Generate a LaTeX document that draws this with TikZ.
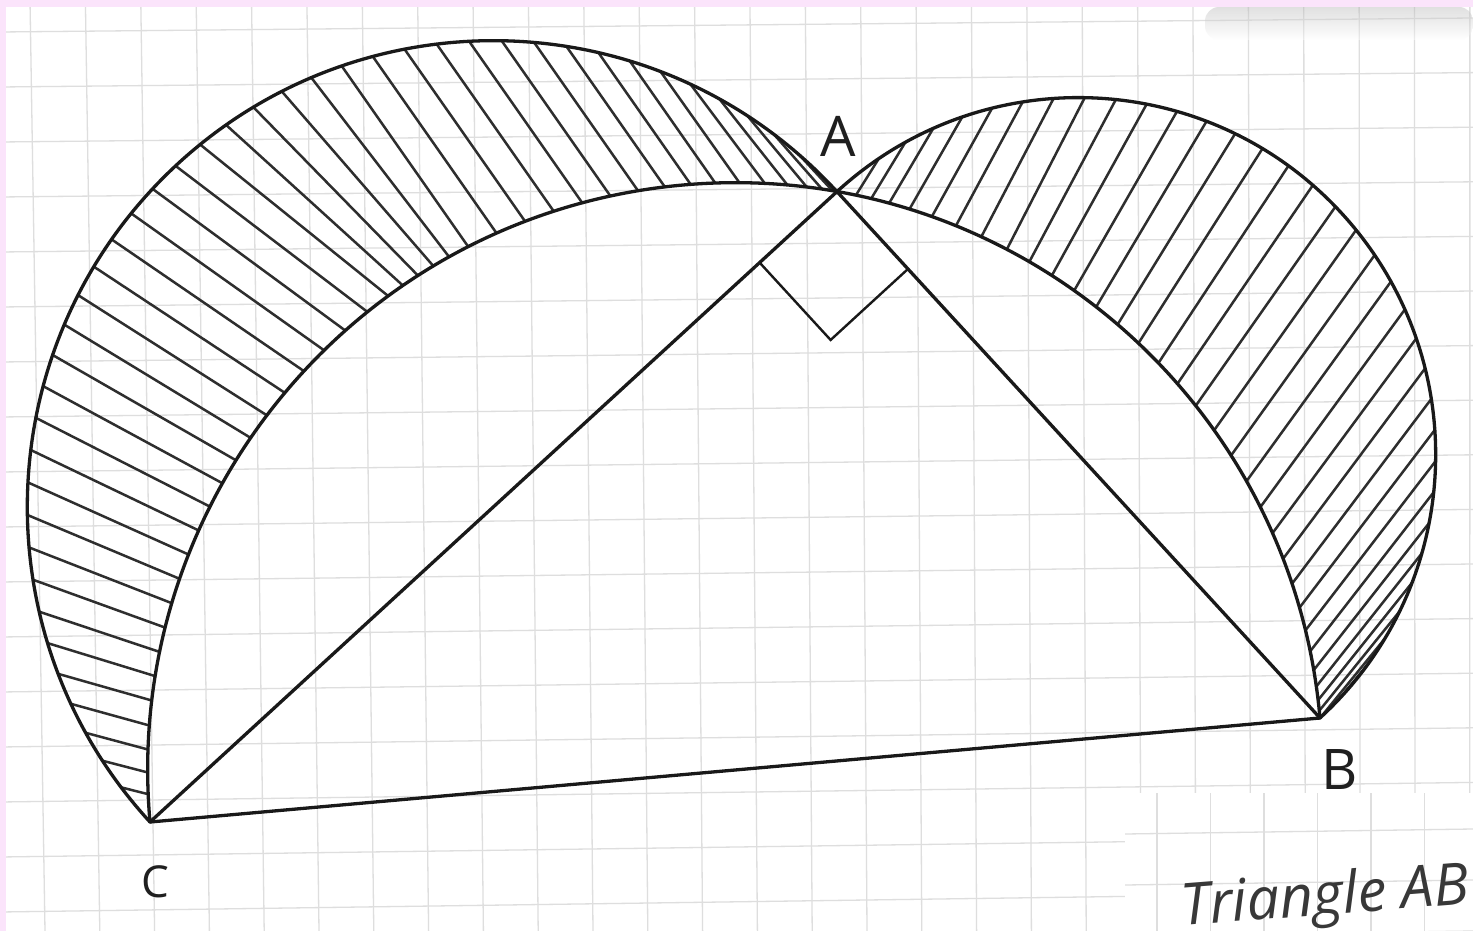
\documentclass[tikz,border=0pt]{standalone}
\usepackage{fontspec}
\setmainfont{Open Sans}
\usetikzlibrary{calc}
\definecolor{pinkbg}{RGB}{251,228,251}
\definecolor{gridgray}{RGB}{222,222,222}
\begin{document}
\begin{tikzpicture}[x=1pt,y=-1pt,
  edge/.style={line width=3.3pt, black!90, line cap=round, line join=round},
  hatch/.style={line width=2.5pt, black!82, line cap=round},
  marker/.style={line width=2.4pt, black!90, line join=miter},
  gridline/.style={line width=1.3pt, gridgray},
  lbl/.style={font=\fontsize{56}{56}\selectfont, inner sep=0pt, text=black!88},
  caption/.style={font=\fontsize{58}{58}\itshape\selectfont, inner sep=0pt, text=black!78}]
\useasboundingbox (0,0) rectangle (1473,931);
\fill[white] (0,0) rectangle (1473,931);
% grid paper
\foreach \i in {0,...,26} \draw[gridline] (30+55.38*\i,0) -- (45+54.8*\i,931);
\foreach \j in {0,...,17} \draw[gridline] (0,32+55*\j) -- (1473,18+54.6*\j);
% shadow top right
\shade[top color=black!30, bottom color=white, opacity=0.4, rounded corners=14pt]
  (1205,7) rectangle (1473,40);
% pasted caption box with its own grid
\fill[white] (1125,793) rectangle (1473,931);
\begin{scope}
  \clip (1125,793) rectangle (1473,931);
  \foreach \i in {0,...,6} \draw[gridline] (1157+53.5*\i,793) -- (1157+53.5*\i,931);
  \foreach \j in {0,...,2} \draw[gridline] (1125,834+51*\j) -- (1473,829+51*\j);
\end{scope}
% key points
\coordinate (C) at (150,822);
\coordinate (B) at (1320,718);
\coordinate (A) at (836.98,191.61);
\coordinate (M1) at (493.49,506.81);
\coordinate (M2) at (1078.49,454.81);
\coordinate (M3) at (735,770);
% left lune hatching
\begin{scope}
  \clip (C) arc[start angle=137.46, end angle=317.46, radius=466.19]
            arc[start angle=280, end angle=174.92, radius=587.31] -- cycle;
  \foreach \p in {143,147,...,314}{
    \pgfmathsetmacro\al{\p<160 ? 14+(\p-142)*2/18 :
      (\p<205 ? 16+(\p-160)*16/45 :
      (\p<230 ? 32+(\p-205)*6/25 :
      (\p<250 ? 38+(\p-230)*17/20 :
      (\p<290 ? 55 : 55-(\p-290)*10/27))))}
    \draw[hatch] ($(M1)+(\p:466.19)+(\al+180:5)$) -- ++(\al:330);
  }
\end{scope}
% right lune hatching
\begin{scope}
  \clip (A) arc[start angle=227.46, end angle=407.46, radius=357.21]
            arc[start angle=354.92, end angle=280, radius=587.31] -- cycle;
  \foreach \p in {236,241,...,404}{
    \pgfmathsetmacro\be{\p<270 ? 58+(\p-236)*5/34 :
      (\p<315 ? 63-(\p-270)*8/45 : 55-(\p-315)*5/90)}
    \draw[hatch] ($(M2)+(\p:357.21)+(-\be:5)$) -- ++(180-\be:330);
  }
\end{scope}
% arcs
\draw[edge] (C) arc[start angle=137.46, end angle=317.46, radius=466.19];
\draw[edge] (A) arc[start angle=227.46, end angle=407.46, radius=357.21];
\draw[edge] (C) arc[start angle=174.92, end angle=354.92, radius=587.31];
% triangle
\draw[edge] (C) -- (A);
\draw[edge] (A) -- (B);
\draw[edge] (B) -- (C);
% right angle marker
\coordinate (P1) at ($(A)+(137.46:105)$);
\coordinate (P3) at ($(A)+(47.46:105)$);
\coordinate (P2) at ($(P1)+(47.46:105)$);
\draw[marker] (P1) -- (P2) -- (P3);
% labels
\node[lbl] (lA) at (838,136) {A};
\node[lbl] (lB) at (1340,770) {B};
\node[lbl, font=\fontsize{44}{44}\selectfont] (lC) at (155,882) {C};
\node[caption, anchor=base west, rotate=4.5] (cap) at (1182,926) {Triangle AB};
% pink border
\fill[pinkbg] (0,0) rectangle (1473,7);
\fill[pinkbg] (0,0) rectangle (6,931);
\end{tikzpicture}
\end{document}
